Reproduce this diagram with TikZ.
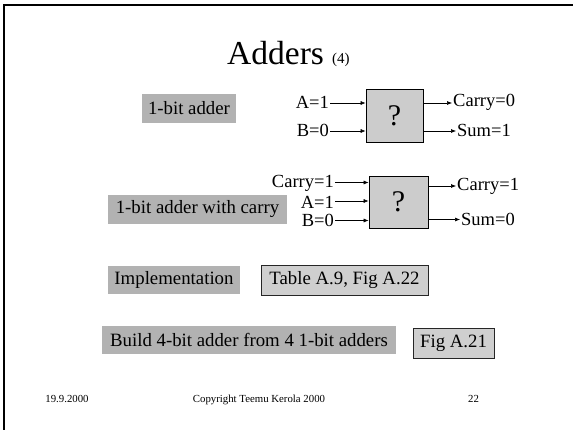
\documentclass[tikz,border=0pt]{standalone}
\usepackage{fontspec}
\setmainfont{Liberation Serif}
\usetikzlibrary{arrows.meta}
\begin{document}
\begin{tikzpicture}[x=1pt,y=-1pt,
  lbl/.style={fill=black!30, inner sep=0pt, font=\fontsize{18.8}{20}\selectfont},
  ref/.style={fill=black!19, draw=black!85, line width=0.9pt, inner sep=0pt, font=\fontsize{18.8}{20}\selectfont},
  adder/.style={fill=black!20, draw=black, line width=0.7pt, inner sep=0pt, font=\fontsize{30}{32}\selectfont},
  sig/.style={inner sep=1pt, font=\fontsize{18.5}{20}\selectfont},
  wire/.style={line width=0.6pt, -{Latex[length=5pt,width=4pt]}},
  foot/.style={anchor=base, font=\fontsize{10.8}{12}\selectfont}]
\useasboundingbox (0,0) rectangle (573,430);
% slide frame
\draw[line width=2pt] (573,5.5) -- (4.3,5.5) -- (4.3,430);
% title
\node[anchor=base west, inner sep=0pt, font=\fontsize{33.5}{36}\selectfont] (title) at (227,65) {Adders};
\node[anchor=base west, inner sep=0pt, font=\fontsize{15}{16}\selectfont] (num) at (332,63.5) {(4)};
% 1-bit adder
\node[lbl, minimum width=94, minimum height=29] (l1) at (189,108.5) {1-bit adder};
\node[adder, minimum width=57, minimum height=53] (add1) at (394.5,115.5) {?};
\node[sig, anchor=east] (a1) at (330,102) {A=1};
\node[sig, anchor=east] (b1) at (330,130) {B=0};
\node[sig, anchor=west] (c1) at (452,102) {Carry=0};
\node[sig, anchor=west] (s1) at (456,130) {Sum=1};
\draw[wire] ([yshift=-1]a1.east) -- ([yshift=-1]a1.east -| add1.west);
\draw[wire] ([yshift=-1]b1.east) -- ([yshift=-1]b1.east -| add1.west);
\draw[wire] ([yshift=-1]c1.west -| add1.east) -- ([yshift=-1]c1.west);
\draw[wire] ([yshift=-1]s1.west -| add1.east) -- ([yshift=-1]s1.west);
% 1-bit adder with carry
\node[lbl, minimum width=179, minimum height=29] (l2) at (197.5,209.5) {1-bit adder with carry};
\node[adder, minimum width=59, minimum height=52] (add2) at (398.5,202) {?};
\node[sig, anchor=east] (c2) at (335,183.5) {Carry=1};
\node[sig, anchor=east] (a2) at (335,202) {A=1};
\node[sig, anchor=east] (b2) at (335,220.5) {B=0};
\node[sig, anchor=west] (co2) at (456,186) {Carry=1};
\node[sig, anchor=west] (s2) at (460,219.5) {Sum=0};
\draw[wire] ([yshift=1]c2.east) -- ([yshift=1]c2.east -| add2.west);
\draw[wire] ([yshift=1]a2.east) -- ([yshift=1]a2.east -| add2.west);
\draw[wire] (b2.east) -- (b2.east -| add2.west);
\draw[wire] (co2.west -| add2.east) -- (co2.west);
\draw[wire] (s2.west -| add2.east) -- (s2.west);
% implementation
\node[lbl, minimum width=132, minimum height=28] (impl) at (174,280) {Implementation};
\node[ref, minimum width=167, minimum height=30] (tab) at (344.5,280.5) {Table A.9, Fig A.22};
% 4-bit adder
\node[lbl, minimum width=294, minimum height=28] (build) at (249,340) {Build 4-bit adder from 4 1-bit adders};
\node[ref, minimum width=81, minimum height=30] (fig) at (453.5,343) {Fig A.21};
% footer
\node[foot] (date) at (67,402) {19.9.2000};
\node[foot] (copy) at (259,402) {Copyright Teemu Kerola 2000};
\node[foot] (page) at (473.5,402) {22};
\end{tikzpicture}
\end{document}
